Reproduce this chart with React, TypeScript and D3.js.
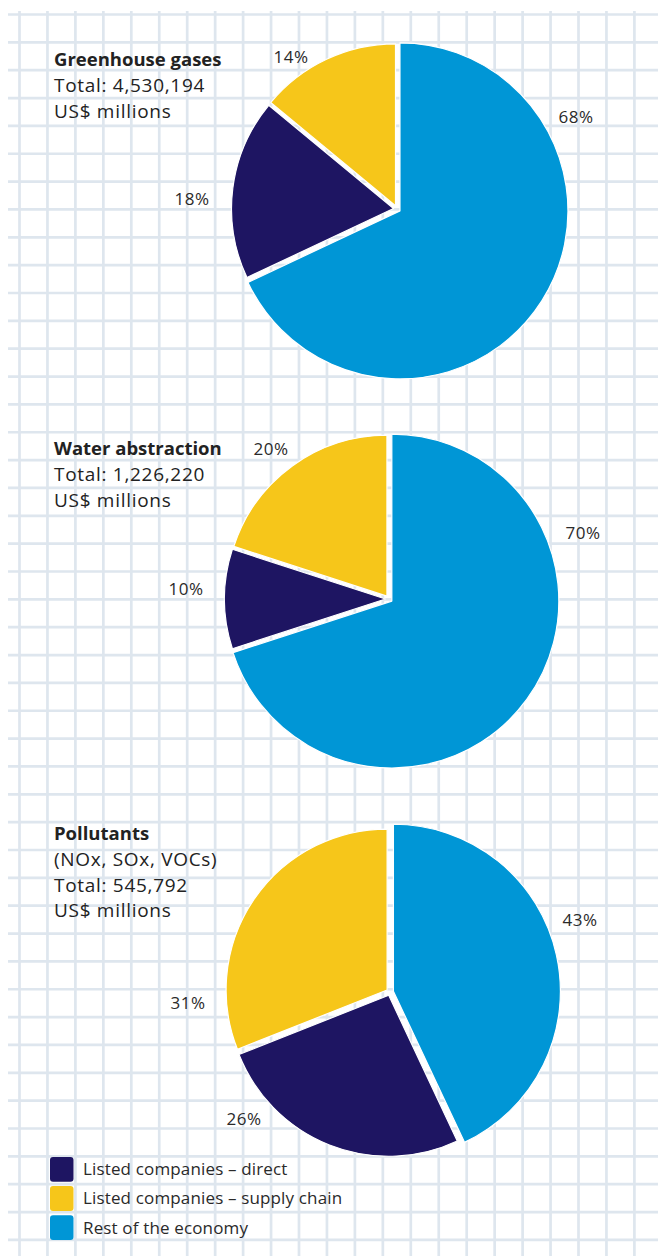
import React from 'react';
import * as d3 from 'd3';

// Shares (%) in drawing order: rest of economy, listed direct, listed supply chain
const categories = ['Rest of the economy', 'Listed companies – direct', 'Listed companies – supply chain'];
const legendOrder = ['Listed companies – direct', 'Listed companies – supply chain', 'Rest of the economy'];

const ghgValues = [68, 18, 14];
const waterValues = [70, 10, 20];
const pollutantValues = [43, 26, 31];

const ghgTitle = ['Greenhouse gases', 'Total: 4,530,194', 'US$ millions'];
const waterTitle = ['Water abstraction', 'Total: 1,226,220', 'US$ millions'];
const pollutantTitle = ['Pollutants', '(NOx, SOx, VOCs)', 'Total: 545,792', 'US$ millions'];

const W = 658;
const H = 1256;
const FONT = '"Open Sans", "Noto Sans", sans-serif';

const color = d3
  .scaleOrdinal<string, string>()
  .domain(categories)
  .range(['#0096d6', '#1e1562', '#f6c61a']);

// the blue slice is drawn a little larger than the listed-company slices
const radiusShrink = d3.scaleOrdinal<string, number>().domain(categories).range([0, 6, 6]);

// layout for each pie: centre, radius, title origin, label offsets (relative to centre)
const pies = [
  {
    values: ghgValues,
    title: ghgTitle,
    cx: 397,
    cy: 209,
    r: 168,
    titleY: 66,
    labelOffsets: [
      [179, -92],
      [-205, -10],
      [-106, -152],
    ],
  },
  {
    values: waterValues,
    title: waterTitle,
    cx: 389,
    cy: 599,
    r: 167,
    titleY: 455,
    labelOffsets: [
      [194, -66],
      [-203, -10],
      [-118, -150],
    ],
  },
  {
    values: pollutantValues,
    title: pollutantTitle,
    cx: 390,
    cy: 992,
    r: 167,
    titleY: 840,
    labelOffsets: [
      [190, -72],
      [-146, 127],
      [-202, 11],
    ],
  },
];

const pie = d3
  .pie<number>()
  .sort(null)
  .value((d) => d)
  .startAngle(0)
  .endAngle(2 * Math.PI);

const explode = 3.5;

const Grid: React.FC = () => {
  const sx = 27.95;
  const sy = 27.85;
  const xs = d3.range(19.5, W + 1, sx);
  const ys = d3.range(14.5, H + 1, sy);
  const stroke = '#dee6ee';
  return (
    <g>
      {ys.map((y, i) => (
        <line key={'h' + i} x1={8} x2={W} y1={y} y2={y} stroke={stroke} strokeWidth={2.7} />
      ))}
      {xs.map((x, i) => (
        <line key={'v' + i} x1={x} x2={x} y1={11} y2={H} stroke={stroke} strokeWidth={2.7} />
      ))}
    </g>
  );
};

const Pie: React.FC<(typeof pies)[number]> = ({ values, title, cx, cy, r, titleY, labelOffsets }) => {
  const arcs = pie(values);
  return (
    <g>
      {title.map((t, i) => (
        <text
          key={i}
          x={54}
          y={titleY + i * 25.8}
          fontSize={i === 0 ? 18.5 : 19}
          fontWeight={i === 0 ? 700 : 400}
          letterSpacing={i === 0 ? 0 : 0.7}
          fill="#222"
          fontFamily={FONT}
        >
          {t}
        </text>
      ))}
      <g transform={`translate(${cx},${cy})`}>
        {arcs.map((a, i) => {
          const mid = (a.startAngle + a.endAngle) / 2;
          const dx = Math.sin(mid) * explode;
          const dy = -Math.cos(mid) * explode;
          const arc = d3
            .arc<d3.PieArcDatum<number>>()
            .innerRadius(0)
            .outerRadius(r - radiusShrink(categories[i]));
          return (
            <path
              key={i}
              d={arc(a) || ''}
              transform={`translate(${dx},${dy})`}
              fill={color(categories[i])}
              stroke="#fff"
              strokeWidth={1.2}
              strokeLinejoin="round"
            />
          );
        })}
        {arcs.map((a, i) => (
          <text
            key={'l' + i}
            x={labelOffsets[i][0]}
            y={labelOffsets[i][1] + 6}
            textAnchor="middle"
            fontSize={17}
            letterSpacing={0.5}
            fill="#2a2a2a"
            fontFamily={FONT}
          >
            {`${a.data}%`}
          </text>
        ))}
      </g>
    </g>
  );
};

const Legend: React.FC = () => {
  const y = d3.scaleBand<string>().domain(legendOrder).range([1157, 1240]).paddingInner(0.15);
  return (
    <g>
      {legendOrder.map((c) => (
        <g key={c} transform={`translate(50,${y(c)})`}>
          <rect width={23.5} height={y.bandwidth()} rx={3} fill={color(c)} />
          <text
            x={33}
            y={y.bandwidth() / 2 + 6}
            fontSize={17}
            letterSpacing={0.15}
            fill="#2a2a2a"
            fontFamily={FONT}
          >
            {c}
          </text>
        </g>
      ))}
    </g>
  );
};

export default function App() {
  return (
    <div style={{ position: 'absolute', left: 0, top: 0 }}>
      <svg width={W} height={H} style={{ display: 'block', background: '#fff' }}>
        <Grid />
        {pies.map((p, i) => (
          <Pie key={i} {...p} />
        ))}
        <Legend />
      </svg>
    </div>
  );
}
